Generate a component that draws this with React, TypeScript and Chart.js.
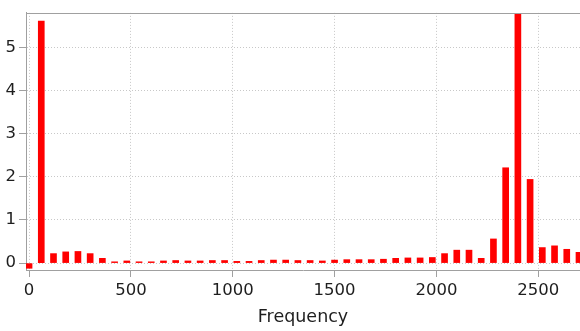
import React, { useEffect, useRef } from "react";
import { Chart, registerables } from "chart.js";

Chart.register(...registerables);

const frequencies: number[] = [
  0, 60, 120, 180, 240, 300, 360, 420, 480, 540, 600, 660, 720, 780, 840, 900,
  960, 1020, 1080, 1140, 1200, 1260, 1320, 1380, 1440, 1500, 1560, 1620, 1680,
  1740, 1800, 1860, 1920, 1980, 2040, 2100, 2160, 2220, 2280, 2340, 2400, 2460,
  2520, 2580, 2640, 2700,
];

const amplitudes: number[] = [
  -0.12, 5.61, 0.22, 0.26, 0.27, 0.22, 0.11, 0.03, 0.05, 0.03, 0.03, 0.05, 0.06,
  0.05, 0.05, 0.06, 0.06, 0.04, 0.04, 0.06, 0.07, 0.07, 0.06, 0.06, 0.05, 0.07,
  0.08, 0.08, 0.08, 0.09, 0.11, 0.12, 0.12, 0.13, 0.22, 0.3, 0.3, 0.11, 0.56,
  2.21, 5.9, 1.94, 0.36, 0.4, 0.32, 0.25,
];

const xTickValues: number[] = [0, 500, 1000, 1500, 2000, 2500];
const yTickValues: number[] = [0, 1, 2, 3, 4, 5];

const xTitle = "Frequency";

const FONT = "'DejaVu Sans', Verdana, sans-serif";
const TEXT = "#1e1e1e";
const AXIS = "#a0a0a0";
const GRID = "#c8c8c8";

const topBorder = {
  id: "topBorder",
  afterDraw(chart: any) {
    const { ctx, chartArea } = chart;
    ctx.save();
    ctx.strokeStyle = AXIS;
    ctx.lineWidth = 1;
    ctx.beginPath();
    ctx.moveTo(chartArea.left, Math.round(chartArea.top) + 0.5);
    ctx.lineTo(chartArea.right, Math.round(chartArea.top) + 0.5);
    ctx.stroke();
    ctx.restore();
  },
};

export default function App() {
  const ref = useRef<HTMLCanvasElement | null>(null);

  useEffect(() => {
    if (!ref.current) return;
    const chart = new Chart(ref.current, {
      type: "bar",
      data: {
        datasets: [
          {
            data: frequencies.map((f, i) => ({ x: f, y: amplitudes[i] })),
            backgroundColor: "rgb(255,0,0)",
            borderWidth: 0,
            barThickness: 6,
          },
        ],
      },
      options: {
        responsive: false,
        animation: false,
        layout: { padding: { top: 9, left: 0, right: 0, bottom: 0 } },
        plugins: {
          legend: { display: false },
          tooltip: { enabled: false },
        },
        scales: {
          x: {
            type: "linear",
            min: -15,
            max: 2705,
            offset: false,
            afterBuildTicks(scale: any) {
              scale.ticks = xTickValues.map((v) => ({ value: v }));
            },
            afterFit(scale: any) {
              scale.height = 61;
            },
            ticks: {
              color: TEXT,
              font: { family: FONT, size: 16.5 },
              padding: 4,
              maxRotation: 0,
              autoSkip: false,
              callback: (v: any) => String(v),
            },
            grid: {
              offset: false,
              color: GRID,
              lineWidth: 1,
              drawTicks: true,
              tickLength: 7,
              tickColor: AXIS,
              tickBorderDash: [],
            },
            border: { display: true, color: AXIS, width: 1, dash: [1, 2] },
            title: {
              display: true,
              text: xTitle,
              color: TEXT,
              font: { family: FONT, size: 17.5 },
              padding: { top: 0, bottom: 3 },
            },
          },
          y: {
            type: "linear",
            min: -0.16,
            max: 5.8,
            afterBuildTicks(scale: any) {
              scale.ticks = yTickValues.map((v) => ({ value: v }));
            },
            afterFit(scale: any) {
              scale.width = 26;
            },
            ticks: {
              color: TEXT,
              font: { family: FONT, size: 16.5 },
              padding: 3,
              autoSkip: false,
              callback: (v: any) => String(v),
            },
            grid: {
              color: GRID,
              lineWidth: 1,
              drawTicks: true,
              tickLength: 7,
              tickColor: AXIS,
              tickBorderDash: [],
            },
            border: { display: true, color: AXIS, width: 1, dash: [1, 2] },
          },
        },
      },
      plugins: [topBorder],
    } as any);
    return () => chart.destroy();
  }, []);

  return (
    <div style={{ position: "fixed", left: 0, top: 0, width: 580, height: 331, background: "#fff" }}>
      <canvas ref={ref} width={580} height={331} style={{ display: "block" }} />
    </div>
  );
}
